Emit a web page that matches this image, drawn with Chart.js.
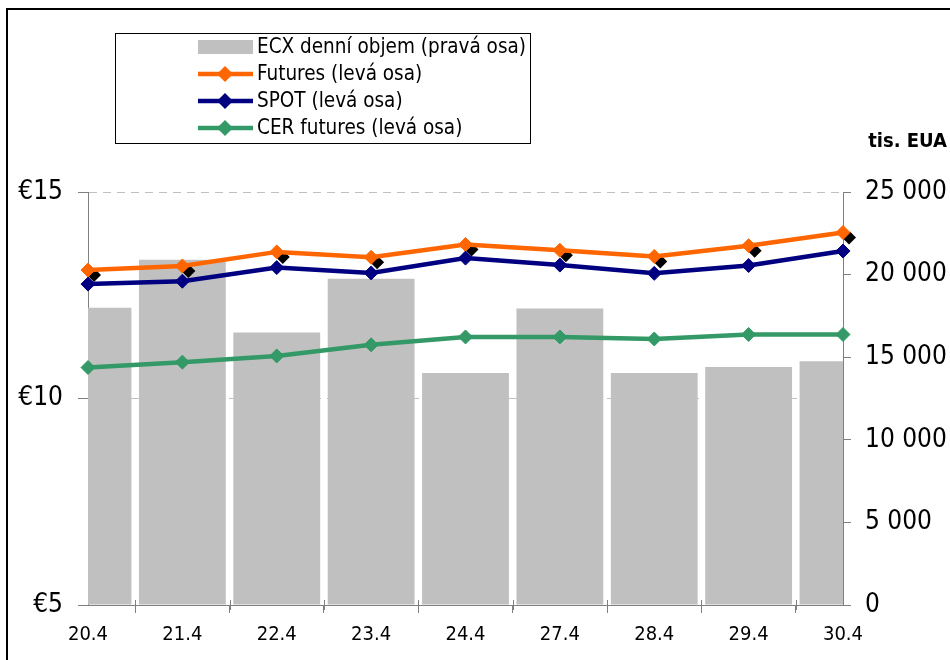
<!DOCTYPE html>
<html>
<head>
<meta charset="utf-8">
<script src="https://cdn.jsdelivr.net/npm/chart.js@4/dist/chart.umd.min.js"></script>
<style>
  html, body { margin: 0; padding: 0; background: #fff; }
  #wrap { width: 950px; height: 660px; position: relative; }
</style>
</head>
<body>
<div id="wrap"><canvas id="chart" width="950" height="660"></canvas></div>
<script>
const dates = ['20.4', '21.4', '22.4', '23.4', '24.4', '27.4', '28.4', '29.4', '30.4'];
const volume = [18000, 20900, 16500, 19750, 14050, 17950, 14050, 14400, 14750];
const futures = [13.11, 13.21, 13.55, 13.42, 13.73, 13.59, 13.44, 13.70, 14.02];
const spot = [12.77, 12.84, 13.17, 13.04, 13.40, 13.23, 13.03, 13.22, 13.57];
const cer = [10.75, 10.88, 11.03, 11.30, 11.49, 11.49, 11.44, 11.55, 11.55];
const leftTicks = [5, 10, 15];
const rightTicks = [0, 5000, 10000, 15000, 20000, 25000];

const FONT = "'DejaVu Sans Condensed', 'DejaVu Sans', sans-serif";
const GREY_AXIS = '#808080';

function spaced(v) {
    return String(v).replace(/\B(?=(\d{3})+(?!\d))/g, ' ');
}

// frame, legend box, unit label, minor x ticks
const extrasPlugin = {
    id: 'extras',
    beforeDraw(chart) {
        const c = chart.ctx;
        c.save();
        c.strokeStyle = '#000';
        c.lineWidth = 2;
        c.strokeRect(7, 9, 1000, 1000);
        c.restore();
    },
    beforeDatasetDraw(chart, args) {
        // black marker shadow on the Futures series
        if (chart.data.datasets[args.index].label !== 'Futures (levá osa)') return;
        const c = chart.ctx;
        c.save();
        c.fillStyle = '#000';
        args.meta.data.forEach(pt => {
            c.beginPath();
            c.moveTo(pt.x + 7, pt.y - 1);
            c.lineTo(pt.x + 13, pt.y + 5);
            c.lineTo(pt.x + 6, pt.y + 12);
            c.lineTo(pt.x, pt.y + 6);
            c.closePath();
            c.fill();
        });
        c.restore();
    },
    afterDraw(chart) {
        const c = chart.ctx;
        const x = chart.scales.x;
        const area = chart.chartArea;
        c.save();
        // minor ticks between categories
        c.strokeStyle = GREY_AXIS;
        c.lineWidth = 1;
        for (let i = 0; i < dates.length - 1; i++) {
            const px = Math.round((x.getPixelForValue(i) + x.getPixelForValue(i + 1)) / 2) + 0.5;
            c.beginPath();
            c.moveTo(px, area.bottom - 5);
            c.lineTo(px, area.bottom + 5);
            c.stroke();
        }

        // unit label
        c.fillStyle = '#000';
        c.font = "bold 20px " + FONT;
        c.textAlign = 'right';
        c.textBaseline = 'middle';
        c.fillText('tis. EUA', 947, 142);

        // legend
        const lx = 115, ly = 33, lw = 415, lh = 110;
        c.fillStyle = '#fff';
        c.fillRect(lx, ly, lw, lh);
        c.strokeStyle = '#000';
        c.lineWidth = 1;
        c.strokeRect(lx + 0.5, ly + 0.5, lw, lh);
        c.font = "20.5px " + FONT;
        c.textAlign = 'left';
        const rowH = 27;
        const y0 = 47;
        chart.data.datasets.forEach((ds, i) => {
            const cy = y0 + ds.legendRow * rowH;
            if (ds.type === 'bar') {
                c.fillStyle = ds.backgroundColor;
                c.fillRect(198, cy - 7, 55, 14);
            } else {
                c.strokeStyle = ds.borderColor;
                c.lineWidth = 4.5;
                c.beginPath();
                c.moveTo(198, cy);
                c.lineTo(253, cy);
                c.stroke();
                c.fillStyle = ds.borderColor;
                c.beginPath();
                c.moveTo(225, cy - 8);
                c.lineTo(233, cy);
                c.lineTo(225, cy + 8);
                c.lineTo(217, cy);
                c.closePath();
                c.fill();
            }
            c.fillStyle = '#000';
            c.fillText(ds.label, 257, cy + 1);
        });
        c.restore();
    }
};

function lineSet(label, data, color, order, row) {
    return {
        type: 'line',
        label: label,
        data: data,
        yAxisID: 'y',
        borderColor: color,
        backgroundColor: color,
        borderWidth: 4.5,
        pointStyle: 'rectRot',
        pointRadius: 7,
        pointBorderWidth: 1,
        pointBackgroundColor: color,
        pointBorderColor: color,
        tension: 0,
        clip: false,
        order: order,
        legendRow: row
    };
}

new Chart(document.getElementById('chart'), {
    data: {
        labels: dates,
        datasets: [
            {
                type: 'bar',
                label: 'ECX denní objem (pravá osa)',
                data: volume,
                yAxisID: 'y2',
                backgroundColor: '#c0c0c0',
                barPercentage: 0.92,
                categoryPercentage: 1,
                order: 5,
                legendRow: 0
            },
            lineSet('Futures (levá osa)', futures, '#ff6600', 3, 1),
            lineSet('SPOT (levá osa)', spot, '#000080', 2, 2),
            lineSet('CER futures (levá osa)', cer, '#339966', 1, 3)
        ]
    },
    options: {
        responsive: false,
        animation: false,
        layout: { padding: { top: 192, left: 0, right: 0, bottom: 0 } },
        plugins: {
            legend: { display: false },
            tooltip: { enabled: false }
        },
        scales: {
            x: {
                type: 'category',
                offset: false,
                afterFit(scale) { scale.height = 55; },
                border: { display: true, color: GREY_AXIS, width: 1 },
                grid: {
                    display: true,
                    drawOnChartArea: false,
                    drawTicks: true,
                    tickLength: 8,
                    color: GREY_AXIS
                },
                ticks: {
                    color: '#000',
                    padding: 10,
                    maxRotation: 0,
                    autoSkip: false,
                    font: { family: FONT, size: 20 }
                }
            },
            y: {
                position: 'left',
                min: 5,
                max: 15,
                afterFit(scale) { scale.width = 88; },
                afterBuildTicks(scale) { scale.ticks = leftTicks.map(v => ({ value: v })); },
                border: { display: true, color: GREY_AXIS, width: 1, dash: [8, 6] },
                grid: {
                    drawTicks: true,
                    tickLength: 10,
                    color: ctx => (ctx.tick && ctx.tick.value === 5) ? 'rgba(0,0,0,0)' : '#c0c0c0',
                    tickColor: GREY_AXIS,
                    tickBorderDash: [1, 0]
                },
                ticks: {
                    color: '#000',
                    padding: 15,
                    font: { family: FONT, size: 26 },
                    callback: v => '€' + v
                }
            },
            y2: {
                position: 'right',
                min: 0,
                max: 25000,
                afterFit(scale) { scale.width = 107; },
                afterBuildTicks(scale) { scale.ticks = rightTicks.map(v => ({ value: v })); },
                border: { display: true, color: GREY_AXIS, width: 1 },
                grid: {
                    drawOnChartArea: false,
                    drawTicks: true,
                    tickLength: 8,
                    color: GREY_AXIS
                },
                ticks: {
                    color: '#000',
                    padding: 14,
                    font: { family: FONT, size: 26 },
                    callback: v => spaced(v)
                }
            }
        }
    },
    plugins: [extrasPlugin]
});
</script>
</body>
</html>
